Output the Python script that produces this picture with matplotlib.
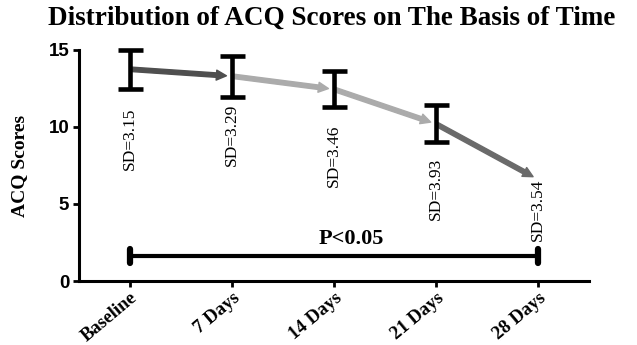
import matplotlib
matplotlib.use("Agg")
import matplotlib.pyplot as plt
from matplotlib.patches import FancyArrowPatch

# ---- data ----
categories = ["Baseline", "7 Days", "14 Days", "21 Days", "28 Days"]
means = [13.75, 13.3, 12.45, 10.2, 6.6]
errors = [1.27, 1.33, 1.18, 1.2]          # error bars drawn for first four points
sd_labels = ["SD=3.15", "SD=3.29", "SD=3.46", "SD=3.93", "SD=3.54"]
p_text = "P<0.05"
yticks = [0, 5, 10, 15]

# ---- layout / style ----
sd_label_y = [9.25, 9.5, 8.1, 6.0, 4.65]
arrow_colors = ["#4f4f4f", "#ababab", "#ababab", "#6a6a6a"]
p_bar_y = 1.6

serif = "Liberation Serif"
sans = "Liberation Sans"

fig = plt.figure(figsize=(6.37, 3.45), dpi=100)
ax = fig.add_axes([0.124, 0.1855, 0.8006, 0.6696])

x = list(range(len(categories)))

ax.errorbar(x[:len(errors)], means[:len(errors)], yerr=errors, fmt="none",
            ecolor="black", elinewidth=3.3, capsize=9, capthick=3.3, clip_on=False, zorder=3)

for i in range(len(categories) - 1):
    arr = FancyArrowPatch((x[i], means[i]), (x[i + 1], means[i + 1]),
                          arrowstyle="simple,head_width=0.9,head_length=0.9,tail_width=0.4",
                          mutation_scale=8, color=arrow_colors[i],
                          shrinkA=1, shrinkB=4, zorder=2, clip_on=False)
    ax.add_patch(arr)

for i, lab in enumerate(sd_labels):
    ax.text(x[i], sd_label_y[i], lab, rotation=90, ha="center", va="center",
            fontsize=12.5, family=serif, color="black")

# significance bar
ax.plot([x[0], x[-1]], [p_bar_y, p_bar_y], color="black", lw=3, solid_capstyle="butt")
for xx in (x[0], x[-1]):
    ax.plot([xx, xx], [p_bar_y - 0.45, p_bar_y + 0.45], color="black", lw=4.5, solid_capstyle="round")
ax.text(2.17, p_bar_y + 0.5, p_text, ha="center", va="bottom", fontsize=16,
        fontweight="bold", family=serif)

ax.set_xlim(-0.5, 4.5)
ax.set_ylim(0, 15)
ax.set_yticks(yticks)
ax.set_yticklabels([str(t) for t in yticks], fontsize=13.5, fontweight="bold", family=sans)
ax.set_xticks(x)
ax.set_xticklabels(categories, rotation=40, ha="right", rotation_mode="anchor",
                   fontsize=13.5, fontweight="bold", family=serif)

for s in ["top", "right"]:
    ax.spines[s].set_visible(False)
for s in ["left", "bottom"]:
    ax.spines[s].set_linewidth(2.2)
ax.tick_params(axis="both", direction="out", length=4, width=2, pad=3)
ax.tick_params(axis="x", pad=2)

ax.set_ylabel("ACQ Scores", fontsize=14, fontweight="bold", family=serif)
ax.yaxis.set_label_coords(-0.1, 0.5)

fig.text(0.521, 0.948, "Distribution of ACQ Scores on The Basis of Time", ha="center",
         va="center", fontsize=19.5, fontweight="bold", family=serif)

fig.savefig("out.png", dpi=100)
